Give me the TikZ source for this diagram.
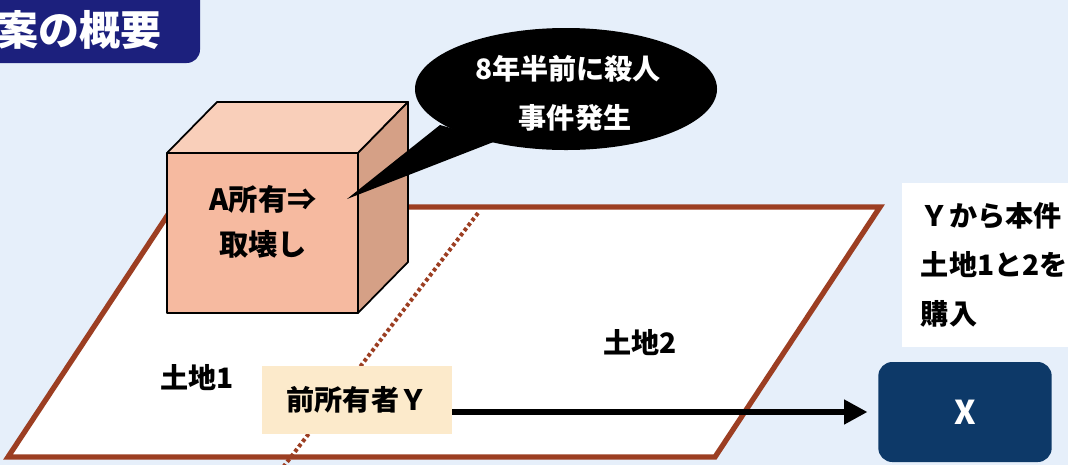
\documentclass[tikz,border=0pt]{standalone}
\usepackage{fontspec}
\newfontfamily\jp{Noto Sans CJK JP}
\usetikzlibrary{arrows.meta,shapes.geometric,positioning,calc}

\definecolor{titlenavy}{RGB}{28,32,125}
\definecolor{xnavy}{RGB}{13,57,104}
\definecolor{landbrown}{RGB}{156,62,34}
\definecolor{cubefront}{RGB}{246,186,160}
\definecolor{cubetop}{RGB}{249,207,186}
\definecolor{cubeside}{RGB}{213,160,134}
\definecolor{ownerfill}{RGB}{252,234,203}
\definecolor{bgblue}{RGB}{230,239,250}
\definecolor{bgwhite}{RGB}{248,250,254}

\newcommand{\bodyfont}{\jp\bfseries\fontsize{24}{42}\selectfont}
\newcommand{\titlefont}{\jp\bfseries\fontsize{35}{40}\selectfont}

\begin{document}
\begin{tikzpicture}[x=0.03cm, y=-0.03cm,
    every node/.style={font=\bodyfont, inner sep=0pt},
    land/.style={draw=landbrown, line width=4.5pt, fill=white, line join=miter},
    divider/.style={draw=landbrown, line width=3.4pt, dash pattern=on 3pt off 2.4pt},
    face/.style={draw=black, line width=1.5pt, line join=round},
    buyarrow/.style={line width=5.5pt, -{Triangle[length=20pt, width=20pt]}, shorten >=9pt}]

    \clip (0,0) rectangle (1068,464);
    \shade[left color=bgblue, middle color=bgwhite, right color=bgblue] (0,0) rectangle (1068,464);

    % title tab, cut off at the left edge
    \fill[titlenavy, rounded corners=0.4cm] (-60,-20) rectangle (200,63);
    \node[text=white, font=\titlefont, anchor=east] (title) at (162,30) {案の概要};

    % the two plots of land
    \draw[land] (8,457) -- (715,457) -- (880,207) -- (173,207) -- cycle;
    \coordinate (divtop) at (478,213);
    \coordinate (divbot) at (284,466);
    \draw[divider] (divtop) -- (divbot);
    \node (land1) at (197,378) {土地1};
    \node (land2) at (640,343) {土地2};

    % building (cube)
    \fill[cubetop, face] (167,153) -- (217,102) -- (408,102) -- (358,153) -- cycle;
    \fill[cubeside, face] (358,153) -- (408,102) -- (408,262) -- (358,313) -- cycle;
    \fill[cubefront, face] (167,153) rectangle (358,313);
    \node[align=center, font=\jp\bfseries\fontsize{25}{39}\selectfont] (cube) at (263,222) {A所有⇒\\取壊し};

    % speech bubble
    \node[ellipse, fill=black, minimum width=9.06cm, minimum height=3.66cm] (bubble) at (566,89) {};
    \coordinate (tip) at (347,199);
    \fill (tip) -- ($(bubble.center)+(-126,36)$) -- ($(bubble.center)+(-70,52)$) -- cycle;
    \node[text=white, align=center] (incident) at (568,93) {8年半前に殺人\\\hspace{0.5em}事件発生};

    % purchase note
    \node[fill=white, anchor=north west, align=left, inner xsep=16pt, inner ysep=12pt,
          minimum width=5.4cm, minimum height=4.9cm] (note) at (902,183)
          {Ｙから本件\\土地1と2を\\購入};

    % previous owner and buyer
    \node[fill=ownerfill, minimum width=5.7cm, minimum height=2.05cm] (prev) at (357,400) {前所有者Ｙ};
    \node[fill=xnavy, rounded corners=0.42cm, minimum width=5.2cm, minimum height=3cm,
          text=white, font=\jp\bfseries\fontsize{28}{30}\selectfont] (x) at (965,412) {X};
    \draw[buyarrow] (prev.east |- x.west) -- (x.west);
\end{tikzpicture}
\end{document}
